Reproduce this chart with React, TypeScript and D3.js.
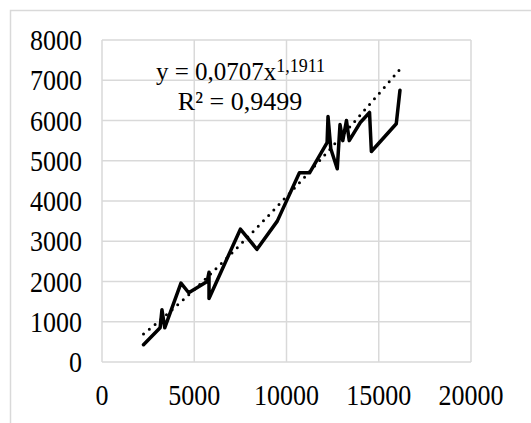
import React from "react";
import * as d3 from "d3";

// measured series (x, y) in drawing order
const xValues = [2250, 3150, 3250, 3400, 4280, 4700, 5700, 5800, 5800, 7500, 8400, 9500, 10700, 11250, 12200, 12250, 12400, 12750, 12900, 13050, 13250, 13400, 14000, 14500, 14600, 15950, 16150];
const yValues = [430, 850, 1300, 850, 1960, 1720, 2000, 2230, 1580, 3300, 2800, 3500, 4700, 4700, 5450, 6100, 5300, 4800, 5900, 5500, 6000, 5500, 5950, 6200, 5230, 5920, 6750];

const xTicks = [0, 5000, 10000, 15000, 20000];
const yTicks = [0, 1000, 2000, 3000, 4000, 5000, 6000, 7000, 8000];

const trendA = 0.0707;
const trendB = 1.1911;

const W = 531;
const H = 423;
const margin = { top: 40, right: 60, bottom: 61, left: 102 };
const font = "Liberation Serif, serif";

const App = () => {
  const x = d3.scaleLinear().domain([0, 20000]).range([margin.left, W - margin.right]);
  const y = d3.scaleLinear().domain([0, 8000]).range([H - margin.bottom, margin.top]);

  const pts: [number, number][] = xValues.map((v, i) => [v, yValues[i]]);
  const line = d3.line<[number, number]>().x((d) => x(d[0])).y((d) => y(d[1]));

  const xMin = d3.min(xValues) as number;
  const xMax = d3.max(xValues) as number;
  const trendPts: [number, number][] = d3.range(0, 61).map((i) => {
    const xv = xMin + ((xMax - xMin) * i) / 60;
    return [xv, trendA * Math.pow(xv, trendB)];
  });

  return (
    <svg width={W} height={H} style={{ position: "absolute", left: 0, top: 0, background: "#fff" }}>
      <rect x={10.5} y={10.5} width={700} height={700} fill="#fff" stroke="#d9d9d9" strokeWidth={1.5} />
      {yTicks.map((t) => (
        <line key={"gy" + t} x1={x(0)} x2={x(20000)} y1={y(t)} y2={y(t)} stroke="#d9d9d9" strokeWidth={1.5} />
      ))}
      {xTicks.map((t) => (
        <line key={"gx" + t} x1={x(t)} x2={x(t)} y1={y(0)} y2={y(8000)} stroke="#d9d9d9" strokeWidth={1.5} />
      ))}
      {yTicks.map((t) => (
        <g key={"ty" + t} transform={`translate(82,${y(t) + 10}) scale(1,1.1)`}>
          <text textAnchor="end" fontFamily={font} fontSize={26}>
            {t}
          </text>
        </g>
      ))}
      {xTicks.map((t) => (
        <g key={"tx" + t} transform={`translate(${x(t)},405) scale(1,1.1)`}>
          <text textAnchor="middle" fontFamily={font} fontSize={26}>
            {t}
          </text>
        </g>
      ))}
      <path d={line(trendPts) || ""} fill="none" stroke="#000" strokeWidth={3} strokeDasharray="0 7.5" strokeLinecap="round" />
      <path d={line(pts) || ""} fill="none" stroke="#000" strokeWidth={3.5} strokeLinejoin="round" strokeLinecap="round" />
      <text x={240.5} y={80} textAnchor="middle" fontFamily={font} fontSize={25}>
        y = 0,0707x<tspan dy={-8} fontSize={18}>1,1911</tspan>
      </text>
      <text x={240} y={110} textAnchor="middle" fontFamily={font} fontSize={26}>
        R² = 0,9499
      </text>
    </svg>
  );
};

export default App;
